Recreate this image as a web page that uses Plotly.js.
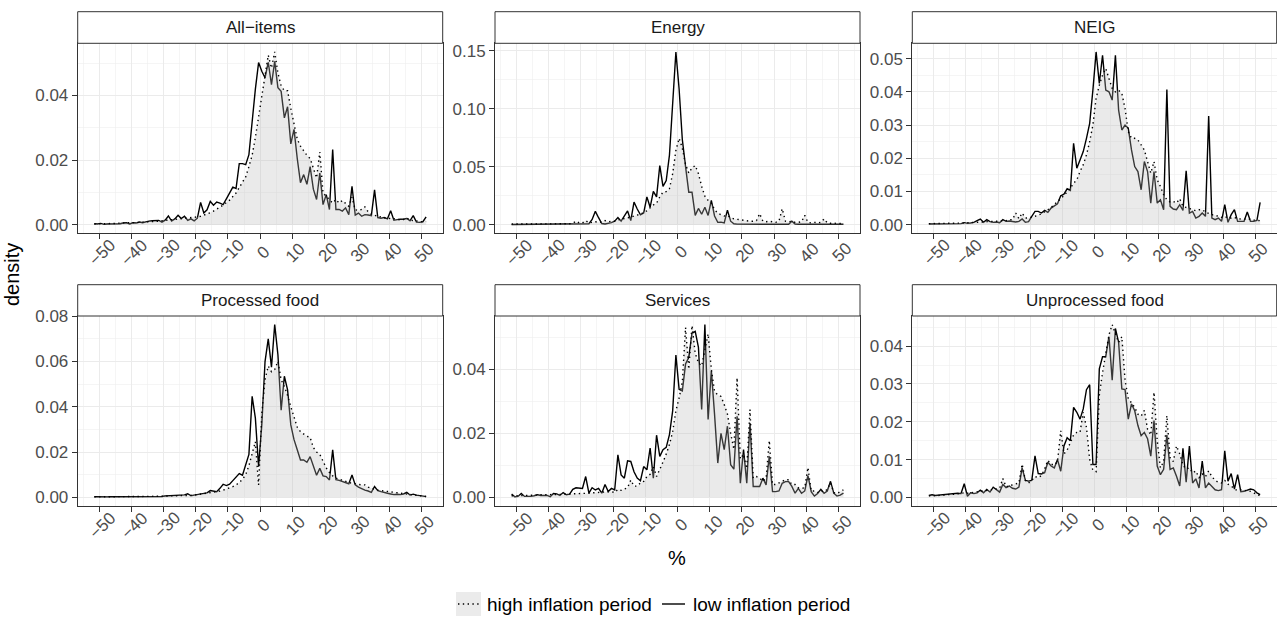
<!DOCTYPE html>
<html>
<head>
<meta charset="utf-8">
<script src="https://cdn.plot.ly/plotly-3.0.1.min.js"></script>
<style>
  html, body { margin: 0; padding: 0; background: #ffffff; }
  #chart { width: 1277px; height: 621px; }
</style>
</head>
<body>
<div id="chart"></div>
<script>
// ---------------- DATA ----------------
// price-change bins (%), centres of 1-point bins
const pctChange = [
  -51.5,-50.5,-49.5,-48.5,-47.5,-46.5,-45.5,-44.5,-43.5,-42.5,
  -41.5,-40.5,-39.5,-38.5,-37.5,-36.5,-35.5,-34.5,-33.5,-32.5,
  -31.5,-30.5,-29.5,-28.5,-27.5,-26.5,-25.5,-24.5,-23.5,-22.5,
  -21.5,-20.5,-19.5,-18.5,-17.5,-16.5,-15.5,-14.5,-13.5,-12.5,
  -11.5,-10.5,-9.5,-8.5,-7.5,-6.5,-5.5,-4.5,-3.5,-2.5,
  -1.5,-0.5,0.5,1.5,2.5,3.5,4.5,5.5,6.5,7.5,
  8.5,9.5,10.5,11.5,12.5,13.5,14.5,15.5,16.5,17.5,
  18.5,19.5,20.5,21.5,22.5,23.5,24.5,25.5,26.5,27.5,
  28.5,29.5,30.5,31.5,32.5,33.5,34.5,35.5,36.5,37.5,
  38.5,39.5,40.5,41.5,42.5,43.5,44.5,45.5,46.5,47.5,
  48.5,49.5,50.5,51.5
];

const panelNames = ['All−items', 'Energy', 'NEIG', 'Processed food', 'Services', 'Unprocessed food'];
const seriesNames = ['high inflation period', 'low inflation period'];

const allItemsLow = [
  0.0003,0.0002,0.0004,0.0001,0.0002,0.0002,0.0003,0.0004,0.0003,0.0005,
  0.0006,0.0002,0.0006,0.0005,0.0008,0.0006,0.0009,0.0011,0.0012,0.0012,
  0.0013,0.0008,0.0014,0.0027,0.0011,0.0018,0.0029,0.0019,0.0026,0.0013,
  0.0018,0.0012,0.0020,0.0069,0.0036,0.0046,0.0072,0.0060,0.0070,0.0067,
  0.0062,0.0080,0.0096,0.0116,0.0112,0.0189,0.0189,0.0186,0.0217,0.0330,
  0.0420,0.0502,0.0475,0.0455,0.0503,0.0434,0.0506,0.0424,0.0413,0.0331,
  0.0365,0.0250,0.0295,0.0205,0.0130,0.0155,0.0125,0.0180,0.0110,0.0078,
  0.0160,0.0062,0.0093,0.0047,0.0233,0.0047,0.0047,0.0042,0.0052,0.0031,
  0.0119,0.0030,0.0036,0.0026,0.0031,0.0030,0.0028,0.0108,0.0022,0.0020,
  0.0022,0.0018,0.0043,0.0014,0.0016,0.0017,0.0017,0.0019,0.0012,0.0028,
  0.0008,0.0007,0.0009,0.0024
];
const allItemsHigh = [
  0.0002,0.0002,0.0003,0.0003,0.0003,0.0004,0.0004,0.0004,0.0005,0.0005,
  0.0005,0.0006,0.0006,0.0007,0.0007,0.0008,0.0008,0.0009,0.0010,0.0010,
  0.0011,0.0012,0.0012,0.0013,0.0014,0.0015,0.0016,0.0017,0.0018,0.0020,
  0.0021,0.0022,0.0024,0.0026,0.0029,0.0033,0.0037,0.0042,0.0047,0.0054,
  0.0061,0.0068,0.0076,0.0087,0.0098,0.0115,0.0130,0.0148,0.0180,0.0215,
  0.0270,0.0335,0.0400,0.0460,0.0525,0.0485,0.0535,0.0470,0.0430,0.0415,
  0.0415,0.0360,0.0310,0.0265,0.0243,0.0227,0.0215,0.0205,0.0176,0.0145,
  0.0225,0.0098,0.0088,0.0078,0.0067,0.0078,0.0067,0.0075,0.0067,0.0057,
  0.0085,0.0046,0.0044,0.0047,0.0055,0.0040,0.0032,0.0028,0.0026,0.0024,
  0.0022,0.0018,0.0020,0.0018,0.0017,0.0015,0.0016,0.0021,0.0014,0.0012,
  0.0011,0.0010,0.0009,0.0010
];

const energyLow = [
  0.0002,0.0002,0.0002,0.0002,0.0002,0.0002,0.0002,0.0002,0.0002,0.0002,
  0.0002,0.0002,0.0002,0.0002,0.0002,0.0002,0.0002,0.0002,0.0002,0.0002,
  0.0002,0.0002,0.0002,0.0003,0.0008,0.0045,0.0115,0.0060,0.0010,0.0006,
  0.0010,0.0018,0.0030,0.0062,0.0030,0.0070,0.0118,0.0035,0.0195,0.0135,
  0.0085,0.0100,0.0240,0.0150,0.0287,0.0240,0.0510,0.0330,0.0380,0.0600,
  0.1030,0.1490,0.1170,0.0733,0.0500,0.0280,0.0280,0.0080,0.0140,0.0090,
  0.0150,0.0080,0.0210,0.0075,0.0020,0.0022,0.0015,0.0125,0.0030,0.0008,
  0.0005,0.0004,0.0007,0.0004,0.0004,0.0003,0.0003,0.0003,0.0003,0.0003,
  0.0003,0.0003,0.0003,0.0003,0.0003,0.0003,0.0003,0.0030,0.0005,0.0003,
  0.0003,0.0003,0.0003,0.0003,0.0003,0.0003,0.0003,0.0003,0.0003,0.0003,
  0.0003,0.0003,0.0003,0.0003
];
const energyHigh = [
  0.0005,0.0005,0.0005,0.0005,0.0005,0.0005,0.0005,0.0005,0.0005,0.0005,
  0.0005,0.0005,0.0005,0.0005,0.0005,0.0005,0.0005,0.0006,0.0008,0.0012,
  0.0030,0.0015,0.0015,0.0035,0.0015,0.0020,0.0025,0.0020,0.0022,0.0035,
  0.0025,0.0030,0.0030,0.0040,0.0045,0.0055,0.0060,0.0065,0.0075,0.0082,
  0.0090,0.0105,0.0120,0.0145,0.0170,0.0185,0.0240,0.0280,0.0285,0.0310,
  0.0440,0.0640,0.0745,0.0660,0.0520,0.0445,0.0490,0.0510,0.0440,0.0330,
  0.0245,0.0210,0.0185,0.0130,0.0100,0.0085,0.0075,0.0078,0.0060,0.0050,
  0.0045,0.0040,0.0035,0.0035,0.0030,0.0030,0.0035,0.0095,0.0030,0.0025,
  0.0030,0.0025,0.0020,0.0030,0.0138,0.0030,0.0025,0.0030,0.0020,0.0020,
  0.0025,0.0080,0.0020,0.0015,0.0020,0.0015,0.0020,0.0050,0.0015,0.0012,
  0.0015,0.0010,0.0012,0.0010
];

const neigLow = [
  0.0002,0.0002,0.0003,0.0002,0.0003,0.0003,0.0003,0.0003,0.0002,0.0004,
  0.0003,0.0006,0.0004,0.0005,0.0007,0.0012,0.0017,0.0007,0.0015,0.0009,
  0.0007,0.0008,0.0006,0.0015,0.0010,0.0011,0.0010,0.0008,0.0010,0.0017,
  0.0007,0.0009,0.0025,0.0040,0.0040,0.0035,0.0043,0.0037,0.0050,0.0057,
  0.0063,0.0087,0.0092,0.0108,0.0103,0.0245,0.0170,0.0195,0.0220,0.0260,
  0.0305,0.0405,0.0520,0.0425,0.0510,0.0405,0.0400,0.0375,0.0510,0.0345,
  0.0285,0.0300,0.0290,0.0225,0.0175,0.0160,0.0105,0.0190,0.0160,0.0065,
  0.0160,0.0065,0.0075,0.0045,0.0407,0.0055,0.0047,0.0045,0.0060,0.0043,
  0.0162,0.0035,0.0040,0.0020,0.0025,0.0035,0.0025,0.0327,0.0020,0.0015,
  0.0020,0.0010,0.0060,0.0007,0.0030,0.0045,0.0010,0.0010,0.0010,0.0038,
  0.0010,0.0010,0.0013,0.0067
];
const neigHigh = [
  0.0003,0.0003,0.0003,0.0003,0.0003,0.0004,0.0004,0.0004,0.0004,0.0005,
  0.0005,0.0005,0.0006,0.0006,0.0007,0.0007,0.0008,0.0008,0.0009,0.0009,
  0.0010,0.0010,0.0011,0.0012,0.0012,0.0015,0.0015,0.0035,0.0018,0.0035,
  0.0020,0.0020,0.0022,0.0025,0.0028,0.0033,0.0038,0.0045,0.0052,0.0060,
  0.0068,0.0078,0.0088,0.0098,0.0110,0.0125,0.0135,0.0160,0.0180,0.0210,
  0.0250,0.0300,0.0380,0.0420,0.0450,0.0470,0.0440,0.0410,0.0400,0.0405,
  0.0395,0.0350,0.0280,0.0260,0.0260,0.0255,0.0240,0.0225,0.0190,0.0155,
  0.0190,0.0135,0.0115,0.0090,0.0075,0.0068,0.0070,0.0065,0.0078,0.0055,
  0.0052,0.0048,0.0045,0.0042,0.0045,0.0045,0.0038,0.0033,0.0030,0.0028,
  0.0025,0.0022,0.0025,0.0020,0.0020,0.0022,0.0018,0.0017,0.0016,0.0018,
  0.0015,0.0014,0.0013,0.0012
];

const processedLow = [
  0.0003,0.0002,0.0002,0.0003,0.0002,0.0003,0.0003,0.0002,0.0003,0.0003,
  0.0003,0.0004,0.0003,0.0004,0.0004,0.0004,0.0005,0.0004,0.0005,0.0005,
  0.0005,0.0004,0.0006,0.0007,0.0005,0.0006,0.0008,0.0010,0.0011,0.0016,
  0.0007,0.0010,0.0012,0.0014,0.0015,0.0020,0.0030,0.0028,0.0025,0.0040,
  0.0058,0.0052,0.0058,0.0074,0.0090,0.0105,0.0098,0.0140,0.0190,0.0446,
  0.0350,0.0136,0.0320,0.0600,0.0700,0.0575,0.0763,0.0630,0.0385,0.0535,
  0.0475,0.0320,0.0255,0.0210,0.0165,0.0165,0.0155,0.0180,0.0135,0.0098,
  0.0128,0.0095,0.0092,0.0077,0.0210,0.0078,0.0075,0.0070,0.0065,0.0060,
  0.0099,0.0055,0.0045,0.0038,0.0032,0.0028,0.0022,0.0048,0.0030,0.0025,
  0.0020,0.0018,0.0015,0.0012,0.0014,0.0012,0.0015,0.0022,0.0010,0.0014,
  0.0010,0.0007,0.0005,0.0003
];
const processedHigh = [
  0.0002,0.0002,0.0002,0.0002,0.0002,0.0003,0.0003,0.0003,0.0003,0.0003,
  0.0003,0.0003,0.0004,0.0004,0.0004,0.0004,0.0004,0.0005,0.0005,0.0005,
  0.0005,0.0005,0.0006,0.0006,0.0006,0.0007,0.0007,0.0008,0.0008,0.0009,
  0.0009,0.0010,0.0012,0.0014,0.0016,0.0018,0.0020,0.0022,0.0025,0.0028,
  0.0032,0.0036,0.0040,0.0047,0.0055,0.0065,0.0080,0.0100,0.0140,0.0200,
  0.0246,0.0055,0.0370,0.0520,0.0580,0.0555,0.0565,0.0600,0.0520,0.0490,
  0.0450,0.0400,0.0350,0.0310,0.0290,0.0280,0.0270,0.0265,0.0220,0.0200,
  0.0190,0.0160,0.0130,0.0110,0.0095,0.0085,0.0080,0.0075,0.0070,0.0066,
  0.0062,0.0060,0.0057,0.0055,0.0055,0.0045,0.0040,0.0035,0.0032,0.0030,
  0.0028,0.0025,0.0022,0.0020,0.0018,0.0016,0.0015,0.0013,0.0012,0.0010,
  0.0009,0.0007,0.0006,0.0004
];

const servicesLow = [
  0.0010,0.0002,0.0003,0.0012,0.0003,0.0002,0.0003,0.0005,0.0008,0.0006,
  0.0005,0.0006,0.0002,0.0012,0.0011,0.0006,0.0015,0.0008,0.0010,0.0025,
  0.0030,0.0030,0.0028,0.0065,0.0013,0.0030,0.0023,0.0028,0.0013,0.0040,
  0.0018,0.0028,0.0023,0.0133,0.0070,0.0060,0.0114,0.0112,0.0080,0.0060,
  0.0052,0.0096,0.0086,0.0154,0.0060,0.0194,0.0128,0.0149,0.0156,0.0196,
  0.0270,0.0444,0.0337,0.0332,0.0416,0.0437,0.0512,0.0518,0.0468,0.0274,
  0.0539,0.0243,0.0395,0.0259,0.0107,0.0200,0.0149,0.0222,0.0102,0.0088,
  0.0253,0.0044,0.0149,0.0044,0.0232,0.0034,0.0034,0.0034,0.0060,0.0039,
  0.0128,0.0018,0.0018,0.0020,0.0044,0.0049,0.0049,0.0034,0.0013,0.0028,
  0.0013,0.0020,0.0068,0.0018,0.0004,0.0012,0.0025,0.0013,0.0020,0.0050,
  0.0013,0.0004,0.0007,0.0013
];
const servicesHigh = [
  0.0005,0.0005,0.0006,0.0006,0.0006,0.0006,0.0007,0.0007,0.0007,0.0008,
  0.0008,0.0008,0.0008,0.0009,0.0009,0.0009,0.0010,0.0010,0.0010,0.0011,
  0.0011,0.0012,0.0012,0.0013,0.0013,0.0014,0.0014,0.0015,0.0016,0.0017,
  0.0018,0.0018,0.0015,0.0025,0.0022,0.0025,0.0030,0.0054,0.0035,0.0035,
  0.0045,0.0050,0.0065,0.0072,0.0096,0.0065,0.0085,0.0110,0.0135,0.0165,
  0.0205,0.0270,0.0310,0.0360,0.0530,0.0400,0.0536,0.0450,0.0420,0.0410,
  0.0460,0.0510,0.0400,0.0330,0.0320,0.0315,0.0290,0.0260,0.0200,0.0150,
  0.0373,0.0120,0.0135,0.0090,0.0274,0.0060,0.0065,0.0060,0.0050,0.0060,
  0.0177,0.0040,0.0040,0.0045,0.0050,0.0055,0.0055,0.0040,0.0040,0.0030,
  0.0028,0.0030,0.0093,0.0020,0.0020,0.0015,0.0020,0.0017,0.0025,0.0045,
  0.0015,0.0012,0.0018,0.0023
];

const unprocessedLow = [
  0.0005,0.0007,0.0005,0.0006,0.0006,0.0007,0.0008,0.0008,0.0010,0.0011,
  0.0010,0.0036,0.0003,0.0012,0.0010,0.0012,0.0019,0.0012,0.0021,0.0014,
  0.0027,0.0020,0.0014,0.0034,0.0026,0.0030,0.0024,0.0022,0.0027,0.0078,
  0.0045,0.0043,0.0045,0.0110,0.0063,0.0062,0.0065,0.0093,0.0083,0.0078,
  0.0100,0.0069,0.0136,0.0158,0.0150,0.0238,0.0225,0.0207,0.0234,0.0285,
  0.0298,0.0087,0.0087,0.0340,0.0372,0.0372,0.0425,0.0310,0.0447,0.0410,
  0.0287,0.0285,0.0207,0.0247,0.0229,0.0190,0.0163,0.0172,0.0155,0.0109,
  0.0203,0.0083,0.0060,0.0074,0.0165,0.0074,0.0078,0.0056,0.0030,0.0130,
  0.0040,0.0136,0.0038,0.0049,0.0025,0.0096,0.0025,0.0038,0.0028,0.0020,
  0.0018,0.0020,0.0123,0.0043,0.0063,0.0022,0.0060,0.0015,0.0016,0.0018,
  0.0022,0.0020,0.0012,0.0007
];
const unprocessedHigh = [
  0.0004,0.0005,0.0004,0.0005,0.0005,0.0006,0.0007,0.0008,0.0008,0.0009,
  0.0010,0.0012,0.0011,0.0012,0.0013,0.0014,0.0015,0.0016,0.0017,0.0019,
  0.0020,0.0022,0.0024,0.0050,0.0028,0.0030,0.0033,0.0035,0.0038,0.0088,
  0.0045,0.0038,0.0045,0.0055,0.0052,0.0058,0.0075,0.0098,0.0088,0.0085,
  0.0095,0.0176,0.0115,0.0125,0.0145,0.0165,0.0172,0.0172,0.0225,0.0185,
  0.0100,0.0072,0.0068,0.0270,0.0330,0.0380,0.0430,0.0457,0.0435,0.0410,
  0.0425,0.0310,0.0262,0.0250,0.0238,0.0220,0.0215,0.0230,0.0180,0.0165,
  0.0278,0.0150,0.0078,0.0095,0.0216,0.0105,0.0095,0.0136,0.0115,0.0085,
  0.0075,0.0078,0.0065,0.0070,0.0052,0.0062,0.0055,0.0070,0.0055,0.0045,
  0.0040,0.0038,0.0045,0.0035,0.0030,0.0022,0.0018,0.0020,0.0019,0.0018,
  0.0016,0.0012,0.0007,0.0005
];

const yTickSteps = [0.02, 0.05, 0.01, 0.02, 0.02, 0.01];
const xTickValues = [-50, -40, -30, -20, -10, 0, 10, 20, 30, 40, 50];

// ---------------- LAYOUT / DRAWING ----------------
const lowSeries  = [allItemsLow, energyLow, neigLow, processedLow, servicesLow, unprocessedLow];
const highSeries = [allItemsHigh, energyHigh, neigHigh, processedHigh, servicesHigh, unprocessedHigh];

const W = 1277, H = 621;
const fx = p => p / W;
const fy = p => 1 - p / H;
const FONT = 'Liberation Sans, Arial, Helvetica, sans-serif';

const colPx = [[77.7, 442.7], [495, 860], [912.3, 1276.7]];
const rowPx = [[43.3, 233.3], [316, 506]];
const stripPx = [[11.7, 43.3], [284.7, 316]];

const xMin = Math.min(...pctChange), xMax = Math.max(...pctChange);
const xPad = 0.05 * (xMax - xMin);
const xRange = [xMin - xPad, xMax + xPad];
const fmtTick = v => (v < 0 ? '\u2212' + Math.abs(v) : String(v));

const traces = [];
const layout = {
  width: W, height: H,
  margin: {l: 0, r: 0, t: 0, b: 0},
  paper_bgcolor: '#ffffff', plot_bgcolor: '#ffffff',
  showlegend: false,
  font: {family: FONT, color: '#4D4D4D'},
  shapes: [], annotations: []
};

panelNames.forEach((name, i) => {
  const r = Math.floor(i / 3), c = i % 3;
  const sfx = i === 0 ? '' : String(i + 1);
  const xa = 'x' + sfx, ya = 'y' + sfx;

  traces.push({
    x: pctChange, y: lowSeries[i], xaxis: xa, yaxis: ya,
    type: 'scatter', mode: 'lines', name: seriesNames[1],
    line: {color: '#000000', width: 1.4},
    hoverinfo: 'skip'
  });
  traces.push({
    x: pctChange, y: highSeries[i], xaxis: xa, yaxis: ya,
    type: 'scatter', mode: 'lines', name: seriesNames[0],
    fill: 'tozeroy', fillcolor: 'rgba(185,185,185,0.3)',
    line: {color: '#000000', width: 1.4, dash: '1.4px,3.4px'},
    hoverinfo: 'skip'
  });

  const M = Math.max(...lowSeries[i], ...highSeries[i]);
  const step = yTickSteps[i];

  layout['xaxis' + sfx] = {
    domain: [fx(colPx[c][0]), fx(colPx[c][1])],
    anchor: ya, range: xRange,
    tickmode: 'array', tickvals: xTickValues, showticklabels: false,
    ticks: 'outside', ticklen: 5, tickwidth: 1, tickcolor: '#333333',
    showgrid: true, gridcolor: '#EBEBEB', gridwidth: 1,
    minor: {dtick: 5, tick0: 0, showgrid: true, gridcolor: '#EFEFEF', gridwidth: 0.6},
    zeroline: false, showline: true, mirror: true, linecolor: '#333333', linewidth: 1,
    fixedrange: true
  };
  layout['yaxis' + sfx] = {
    domain: [fy(rowPx[r][1]), fy(rowPx[r][0])],
    anchor: xa, range: [-0.05 * M, 1.05 * M],
    tick0: 0, dtick: step, tickformat: '.2f',
    ticks: 'outside', ticklen: 5, tickwidth: 1, tickcolor: '#333333',
    tickfont: {family: FONT, size: 17, color: '#4D4D4D'},
    showgrid: true, gridcolor: '#EBEBEB', gridwidth: 1,
    minor: {dtick: step / 2, tick0: 0, showgrid: true, gridcolor: '#EFEFEF', gridwidth: 0.6},
    zeroline: false, showline: true, mirror: true, linecolor: '#333333', linewidth: 1,
    fixedrange: true
  };

  // rotated x tick labels, centred under each tick (placed on the axis scale)
  xTickValues.forEach(v => {
    layout.annotations.push({
      xref: xa, yref: 'paper', x: v, y: fy(rowPx[r][1] + 19.5), xshift: 3.5,
      text: fmtTick(v), textangle: -45, showarrow: false,
      xanchor: 'center', yanchor: 'middle',
      font: {family: FONT, size: 17, color: '#4D4D4D'}
    });
  });

  // strip
  layout.shapes.push({
    type: 'rect', xref: 'paper', yref: 'paper',
    x0: fx(colPx[c][0]), x1: fx(colPx[c][1]),
    y0: fy(stripPx[r][1]), y1: fy(stripPx[r][0]),
    fillcolor: '#ffffff', line: {color: '#333333', width: 1}
  });
  layout.annotations.push({
    xref: 'paper', yref: 'paper',
    x: fx((colPx[c][0] + colPx[c][1]) / 2), y: fy((stripPx[r][0] + stripPx[r][1]) / 2),
    text: name, showarrow: false, xanchor: 'center', yanchor: 'middle',
    font: {family: FONT, size: 17, color: '#1A1A1A'}
  });
});

// axis titles
layout.annotations.push({
  xref: 'paper', yref: 'paper', x: fx(677.2), y: fy(558),
  text: '%', showarrow: false, xanchor: 'center', yanchor: 'middle',
  font: {family: FONT, size: 20, color: '#000000'}
});
layout.annotations.push({
  xref: 'paper', yref: 'paper', x: fx(12), y: fy(275),
  text: 'density', textangle: -90, showarrow: false, xanchor: 'center', yanchor: 'middle',
  font: {family: FONT, size: 20, color: '#000000'}
});

// legend (manual)
const legY = 604;
layout.shapes.push({
  type: 'rect', xref: 'paper', yref: 'paper',
  x0: fx(456), x1: fx(481), y0: fy(616), y1: fy(592),
  fillcolor: '#EBEBEB', line: {width: 0}
});
layout.shapes.push({
  type: 'line', xref: 'paper', yref: 'paper',
  x0: fx(458), x1: fx(480), y0: fy(legY), y1: fy(legY),
  line: {color: '#000000', width: 1.4, dash: '1.4px,3.4px'}
});
layout.annotations.push({
  xref: 'paper', yref: 'paper', x: fx(485), y: fy(legY),
  text: seriesNames[0], showarrow: false, xanchor: 'left', yanchor: 'middle',
  font: {family: FONT, size: 19, color: '#000000'}
});
layout.shapes.push({
  type: 'line', xref: 'paper', yref: 'paper',
  x0: fx(662), x1: fx(685), y0: fy(legY), y1: fy(legY),
  line: {color: '#000000', width: 1.4}
});
layout.annotations.push({
  xref: 'paper', yref: 'paper', x: fx(691), y: fy(legY),
  text: seriesNames[1], showarrow: false, xanchor: 'left', yanchor: 'middle',
  font: {family: FONT, size: 19, color: '#000000'}
});

Plotly.newPlot('chart', traces, layout, {staticPlot: true, displayModeBar: false});
</script>
</body>
</html>
